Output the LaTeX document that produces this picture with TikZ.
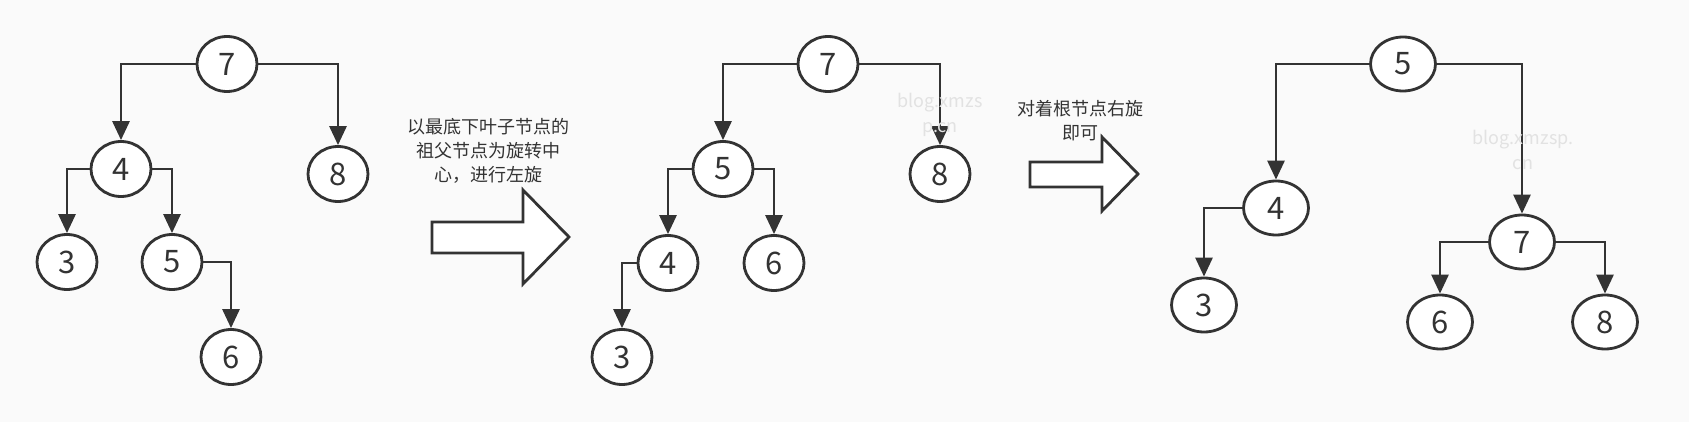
\documentclass[tikz,border=0pt]{standalone}
\usepackage{fontspec}
\setmainfont{Noto Sans CJK SC}
\usetikzlibrary{shapes.geometric,arrows.meta}
\definecolor{ink}{HTML}{333333}
\definecolor{paper}{HTML}{FAFAFA}
\definecolor{wmgray}{HTML}{E2E2E2}
\tikzset{
    knot/.style={ellipse, draw=ink, line width=2.8pt, fill=white, text=ink,
        minimum width=60pt, minimum height=55pt, inner sep=0pt,
        font=\fontsize{31}{31}\selectfont},
    wideknot/.style={knot, minimum width=65pt, minimum height=54pt},
    link/.style={draw=ink, line width=2.8pt, -{Triangle[length=19pt,width=17pt]}},
    bigarrow/.style={draw=ink, line width=2.8pt, fill=white, line join=miter},
    note/.style={align=center, text=ink, font=\fontsize{18}{24}\selectfont},
    wm/.style={align=center, text=wmgray, font=\fontsize{18}{25}\selectfont}
}
\begin{document}
\begin{tikzpicture}[x=1pt, y=-1pt]
            \fill[paper] (0,0) rectangle (1689,422);
            \useasboundingbox (0,0) rectangle (1689,422);

            \node[knot] (a7) at (227,64) {7};
            \node[knot] (a4) at (121,169) {4};
            \node[knot] (a8) at (338,174) {8};
            \node[knot] (a3) at (67,262) {3};
            \node[knot] (a5) at (172,262) {5};
            \node[knot] (a6) at (231,357) {6};
            \draw[link] (a7.west) -| (a4.north);
            \draw[link] (a7.east) -| (a8.north);
            \draw[link] (a4.west) -| (a3.north);
            \draw[link] (a4.east) -| (a5.north);
            \draw[link] (a5.east) -| (a6.north);

            \node[note] (t1) at (488,151) {以最底下叶子节点的\\祖父节点为旋转中\\心，进行左旋};
            \draw[bigarrow] (432,222) -- (523,222) -- (523,190) -- (569,237)
                -- (523,284) -- (523,253) -- (432,253) -- cycle;

            \node[knot] (b7) at (828,64) {7};
            \node[knot] (b5) at (723,169) {5};
            \node[knot] (b8) at (940,174) {8};
            \node[knot] (b4) at (668,263) {4};
            \node[knot] (b6) at (774,263) {6};
            \node[knot] (b3) at (622,357) {3};
            \draw[link] (b7.west) -| (b5.north);
            \draw[link] (b7.east) -| (b8.north);
            \draw[link] (b5.west) -| (b4.north);
            \draw[link] (b5.east) -| (b6.north);
            \draw[link] (b4.west) -| (b3.north);
            \node[wm] (w1) at (940,115) {blog.xmzs\\p.cn};

            \node[note] (t2) at (1080,121) {对着根节点右旋\\即可};
            \draw[bigarrow] (1030,162) -- (1102,162) -- (1102,137) -- (1138,174)
                -- (1102,211) -- (1102,187) -- (1030,187) -- cycle;

            \node[wideknot] (c5) at (1403,64) {5};
            \node[wideknot] (c4) at (1276,208) {4};
            \node[wideknot] (c7) at (1522,242) {7};
            \node[wideknot] (c3) at (1204,305) {3};
            \node[wideknot] (c6) at (1440,322) {6};
            \node[wideknot] (c8) at (1605,322) {8};
            \draw[link] (c5.west) -| (c4.north);
            \draw[link] (c5.east) -| (c7.north);
            \draw[link] (c4.west) -| (c3.north);
            \draw[link] (c7.west) -| (c6.north);
            \draw[link] (c7.east) -| (c8.north);
            \node[wm] (w2) at (1523,150) {blog.xmzsp.\\cn};
        \end{tikzpicture}
\end{document}
